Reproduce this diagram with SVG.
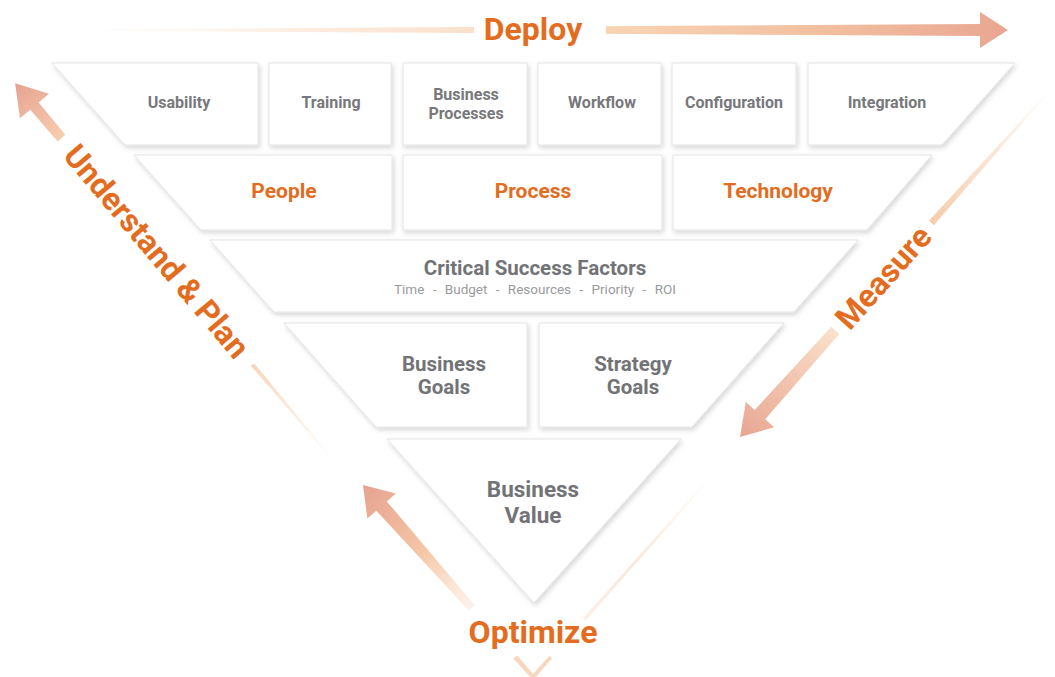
<svg xmlns="http://www.w3.org/2000/svg" width="1055" height="677" viewBox="0 0 1055 677">
<defs>
<style>
.box{fill:#fff;stroke:#e3e3e3;stroke-width:1;filter:url(#sh)}
.t{font-family:Roboto,"Liberation Sans",sans-serif;font-weight:700;text-anchor:middle}
.g1{fill:#77787b;font-size:16px}
.org{fill:#e36c1e;font-size:21px}
.g2{fill:#727376;font-size:20.5px}
.g3{fill:#727376;font-size:22.5px}
.sub{font-family:Roboto,"Liberation Sans",sans-serif;font-weight:400;font-size:13.5px;fill:#9a9b9e;text-anchor:middle;word-spacing:5px}
.big{fill:#e36c1e;font-size:32px}
</style>
<filter id="sh" x="-10%" y="-10%" width="120%" height="130%">
<feDropShadow dx="1.5" dy="2.5" stdDeviation="2.5" flood-color="#000" flood-opacity="0.16"/>
</filter>
<linearGradient id="gDeploy" gradientUnits="userSpaceOnUse" x1="0" y1="0" x2="918" y2="0">
<stop offset="0" stop-color="#fbe4d2" stop-opacity="0"/>
<stop offset="0.25" stop-color="#fbe2cf" stop-opacity="0.7"/>
<stop offset="0.418" stop-color="#f9dcc6" stop-opacity="0.9"/>
<stop offset="0.4185" stop-color="#f9dcc6" stop-opacity="0"/>
<stop offset="0.5615" stop-color="#f8d4b4" stop-opacity="0"/>
<stop offset="0.562" stop-color="#f8d4b4" stop-opacity="1"/>
<stop offset="0.8" stop-color="#f1bfa0" stop-opacity="1"/>
<stop offset="1" stop-color="#e9a692" stop-opacity="1"/>
</linearGradient>
<linearGradient id="gUnder" gradientUnits="userSpaceOnUse" x1="0" y1="0" x2="493" y2="0">
<stop offset="0" stop-color="#f8d0b2" stop-opacity="0"/>
<stop offset="0.15" stop-color="#f8d0b2" stop-opacity="0.5"/>
<stop offset="0.253" stop-color="#f6c7a6" stop-opacity="0.8"/>
<stop offset="0.2535" stop-color="#f6c7a6" stop-opacity="0"/>
<stop offset="0.854" stop-color="#f7cdb0" stop-opacity="0"/>
<stop offset="0.8545" stop-color="#f7cdb0" stop-opacity="1"/>
<stop offset="1" stop-color="#e6a390" stop-opacity="1"/>
</linearGradient>
<linearGradient id="gMeas" gradientUnits="userSpaceOnUse" x1="0" y1="0" x2="469.5" y2="0">
<stop offset="0" stop-color="#f9d8bf" stop-opacity="0"/>
<stop offset="0.2" stop-color="#f7cfb0" stop-opacity="0.55"/>
<stop offset="0.388" stop-color="#f5c6a3" stop-opacity="0.9"/>
<stop offset="0.3885" stop-color="#f5c6a3" stop-opacity="0"/>
<stop offset="0.6955" stop-color="#fae0cb" stop-opacity="0"/>
<stop offset="0.696" stop-color="#fae0cb" stop-opacity="1"/>
<stop offset="1" stop-color="#e8a691" stop-opacity="1"/>
</linearGradient>
<linearGradient id="gOpt" gradientUnits="userSpaceOnUse" x1="0" y1="0" x2="256.4" y2="0">
<stop offset="0" stop-color="#f8d2b6" stop-opacity="0.9"/>
<stop offset="0.104" stop-color="#f8d2b6" stop-opacity="0.9"/>
<stop offset="0.105" stop-color="#f8d2b6" stop-opacity="0"/>
<stop offset="0.36" stop-color="#fbe5d5" stop-opacity="0"/>
<stop offset="0.361" stop-color="#fbe5d5" stop-opacity="0.5"/>
<stop offset="0.65" stop-color="#f5c6a4" stop-opacity="1"/>
<stop offset="1" stop-color="#e6a291" stop-opacity="1"/>
</linearGradient>
<linearGradient id="gRight" gradientUnits="userSpaceOnUse" x1="0" y1="0" x2="266" y2="0">
<stop offset="0" stop-color="#f8d2b6" stop-opacity="0.9"/>
<stop offset="0.1" stop-color="#f8d2b6" stop-opacity="0.9"/>
<stop offset="0.101" stop-color="#f8d2b6" stop-opacity="0"/>
<stop offset="0.29" stop-color="#fadccb" stop-opacity="0"/>
<stop offset="0.291" stop-color="#fadccb" stop-opacity="0.5"/>
<stop offset="0.6" stop-color="#f9d8c2" stop-opacity="0.6"/>
<stop offset="1" stop-color="#f9d8c2" stop-opacity="0"/>
</linearGradient>
</defs>
<rect width="1055" height="677" fill="#fff"/>

<g id="connectors">
<polygon id="arrow-deploy" transform="translate(90,30)" fill="url(#gDeploy)" points="0,-0.8 890,-6 890,-18 918,0 890,18 890,6 0,0.8"/>
<polygon id="arrow-understand" transform="translate(333,460) rotate(-130.15)" fill="url(#gUnder)" points="0,-0.7 463,-5.5 463,-19 493,0 463,19 463,5.5 0,0.7"/>
<polygon id="arrow-measure" transform="translate(1053,87) rotate(131.81)" fill="url(#gMeas)" points="0,-0.7 439.5,-7 439.5,-19 469.5,0 439.5,19 439.5,7 0,0.7"/>
<polygon id="arrow-optimize" transform="translate(533,677) rotate(-131.53)" fill="url(#gOpt)" points="0,-2 228.4,-7 228.4,-19 256.4,0 228.4,19 228.4,7 0,2"/>
<polygon id="line-right" transform="translate(533,677) rotate(-48.35)" fill="url(#gRight)" points="0,-2 266,-1 266,1 0,2"/>
</g>

<g id="label-deploy"><text class="t big" x="533" y="40">Deploy</text></g>
<g id="label-understand"><text class="t big" transform="translate(157,251) rotate(49.85)" x="0" y="11.5">Understand &amp; Plan</text></g>
<g id="label-measure"><text class="t big" transform="translate(883,277) rotate(-48.19)" x="0" y="11.5">Measure</text></g>
<g id="label-optimize"><text class="t big" x="533" y="643">Optimize</text></g>

<g id="usability"><polygon class="box" points="52,63 258,63 258,145 125,145"/><text class="t g1" x="179" y="108">Usability</text></g>
<g id="training"><rect class="box" x="269" y="63" width="122" height="82"/><text class="t g1" x="331" y="108">Training</text></g>
<g id="business-processes"><rect class="box" x="403" y="63" width="124" height="82"/><text class="t g1" x="466" y="99.5">Business</text><text class="t g1" x="466" y="118.5">Processes</text></g>
<g id="workflow"><rect class="box" x="538" y="63" width="123" height="82"/><text class="t g1" x="602" y="108">Workflow</text></g>
<g id="configuration"><rect class="box" x="672" y="63" width="124" height="82"/><text class="t g1" x="734" y="108">Configuration</text></g>
<g id="integration"><polygon class="box" points="808,63 1015,63 942,145 808,145"/><text class="t g1" x="887" y="108">Integration</text></g>

<g id="people"><polygon class="box" points="134,155 392,155 392,230 201,230"/><text class="t org" x="284" y="197.5">People</text></g>
<g id="process"><rect class="box" x="403" y="155" width="259" height="75"/><text class="t org" x="533" y="197.5">Process</text></g>
<g id="technology"><polygon class="box" points="673,155 932,155 867,230 673,230"/><text class="t org" x="778" y="197.5">Technology</text></g>

<g id="csf"><polygon class="box" points="210,240 858,240 794,312 274,312"/><text class="t g2" x="535" y="274.5">Critical Success Factors</text><text class="sub" x="535" y="294">Time - Budget - Resources - Priority - ROI</text></g>

<g id="business-goals"><polygon class="box" points="284,323 527,323 527,427 376,427"/><text class="t g2" x="444" y="370.5">Business</text><text class="t g2" x="444" y="393.5">Goals</text></g>
<g id="strategy-goals"><polygon class="box" points="539,323 784,323 692,427 539,427"/><text class="t g2" x="633" y="370.5">Strategy</text><text class="t g2" x="633" y="393.5">Goals</text></g>

<g id="business-value"><polygon class="box" points="387,439 681,439 534,603"/><text class="t g3" x="533" y="497">Business</text><text class="t g3" x="533" y="523">Value</text></g>
</svg>
